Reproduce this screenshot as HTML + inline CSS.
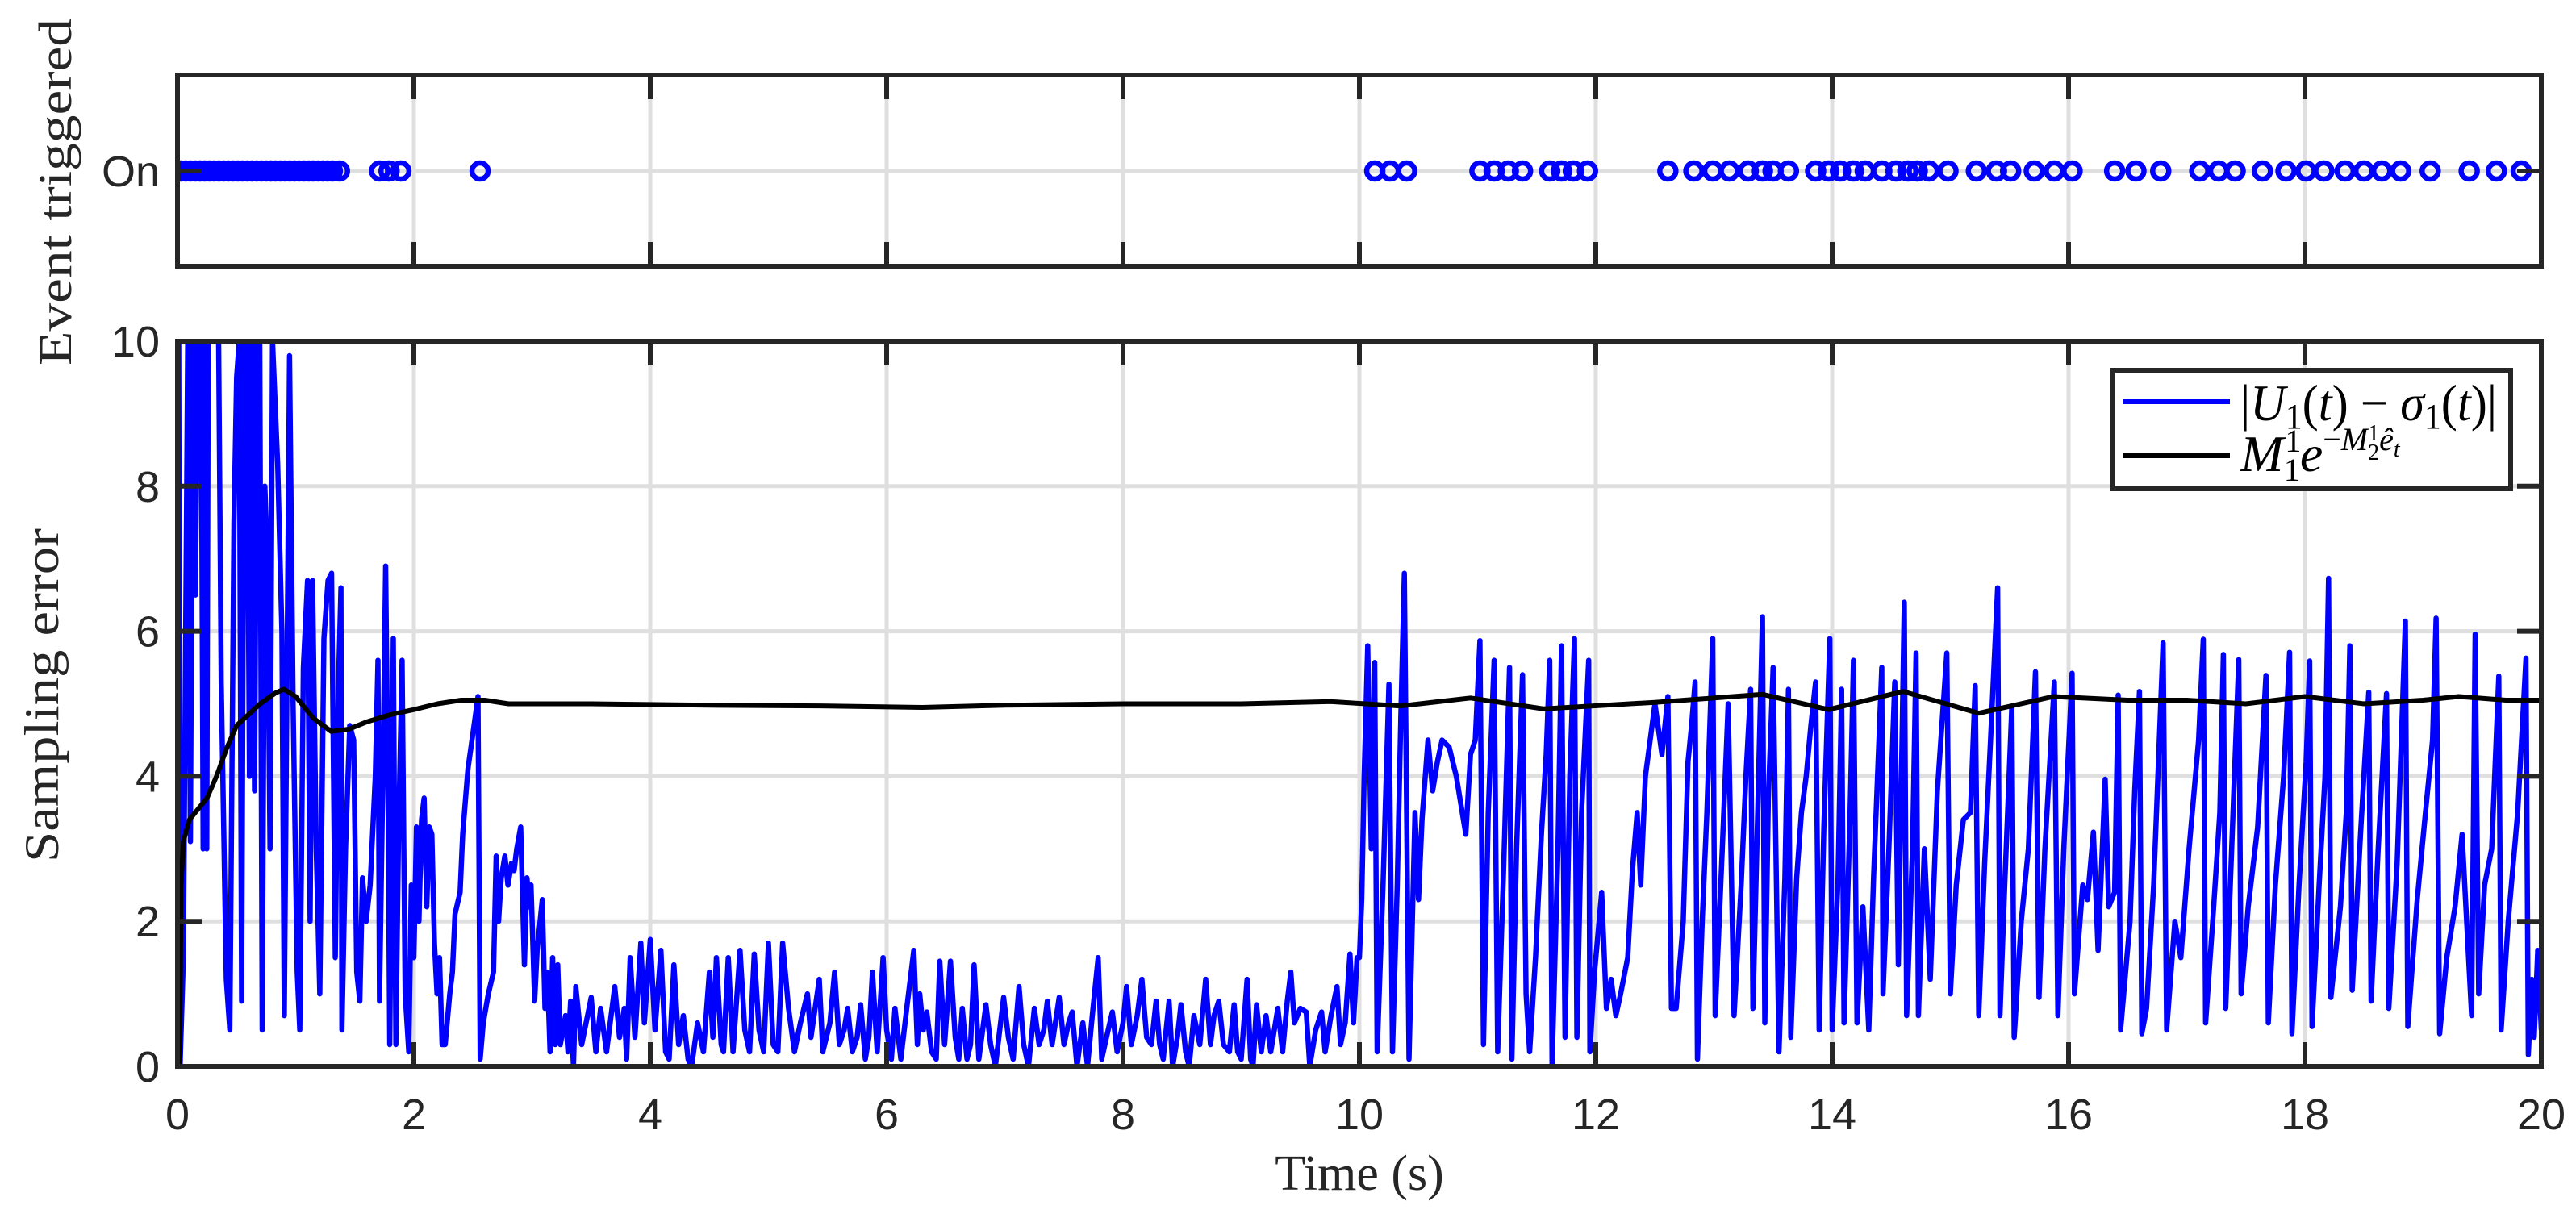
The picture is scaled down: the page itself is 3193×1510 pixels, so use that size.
<!DOCTYPE html>
<html><head><meta charset="utf-8"><style>
html,body{margin:0;padding:0;background:#fff}
svg{display:block}
.tk{font-family:"Liberation Sans",sans-serif;font-size:54px;fill:#262626}
</style></head><body>
<svg id="fig" width="3193" height="1510" viewBox="0 0 3193 1510" xmlns="http://www.w3.org/2000/svg">
<defs><clipPath id="clipB"><rect x="220" y="423" width="2930" height="899"/></clipPath>
<clipPath id="clipT"><rect x="220" y="93" width="2930" height="237"/></clipPath></defs>
<g id="topAx"></g>
<g id="botAx"></g>
<text transform="translate(88,238) rotate(-90)" text-anchor="middle" font-family="Liberation Serif, serif" font-size="58" fill="#262626" textLength="430" lengthAdjust="spacingAndGlyphs">Event triggered</text>
<text transform="translate(72,862) rotate(-90)" text-anchor="middle" font-family="Liberation Serif, serif" font-size="60" fill="#262626" textLength="414" lengthAdjust="spacingAndGlyphs">Sampling error</text>
<text x="1685" y="1475" text-anchor="middle" font-family="Liberation Serif, serif" font-size="62" fill="#262626">Time (s)</text>
<g>
<rect x="2619" y="459" width="493" height="147" fill="#fff" stroke="#262626" stroke-width="6"/>
<line x1="2632" y1="498" x2="2764" y2="498" stroke="#0000ff" stroke-width="6"/>
<line x1="2632" y1="565" x2="2764" y2="565" stroke="#000" stroke-width="6"/>
<text x="2777" y="521" font-family="Liberation Serif, serif" font-size="64" fill="#000" textLength="318" lengthAdjust="spacingAndGlyphs">|<tspan font-style="italic">U</tspan><tspan font-size="44" dy="10">1</tspan><tspan dy="-10">(</tspan><tspan font-style="italic">t</tspan>) − <tspan font-style="italic">σ</tspan><tspan font-size="44" dy="10">1</tspan><tspan dy="-10">(</tspan><tspan font-style="italic">t</tspan>)|</text>
<text x="2777" y="584" font-family="Liberation Serif, serif" font-size="64" fill="#000"><tspan font-style="italic">M</tspan><tspan font-size="40" dx="2" dy="-24">1</tspan><tspan font-size="40" dx="-20" dy="36">1</tspan><tspan font-style="italic" dy="-12">e</tspan><tspan font-size="40" dy="-26">−</tspan><tspan font-size="40" font-style="italic">M</tspan><tspan font-size="28" dy="-12">1</tspan><tspan font-size="28" dx="-14" dy="24">2</tspan><tspan font-size="40" font-style="italic" dy="-12">ê</tspan><tspan font-size="28" font-style="italic" dy="8">t</tspan></text>
</g>
</svg>
<script>
const xTicks=[0,2,4,6,8,10,12,14,16,18,20];
const yTicks=[0,2,4,6,8,10];
const eventT=[0.03,0.07,0.11,0.15,0.19,0.23,0.27,0.31,0.35,0.39,0.43,0.47,0.51,0.55,0.59,0.63,0.67,0.71,0.75,0.79,0.83,0.87,0.91,0.95,0.99,1.03,1.07,1.11,1.15,1.19,1.23,1.27,1.31,1.37,1.71,1.79,1.89,2.56,
10.13,10.26,10.40,11.02,11.14,11.26,11.38,11.61,11.71,11.81,11.93,12.61,12.83,12.99,13.13,13.29,13.41,13.50,13.63,13.86,13.97,14.07,14.18,14.28,14.42,14.54,14.64,14.72,14.82,14.98,
15.22,15.39,15.51,15.71,15.88,16.03,16.39,16.57,16.78,17.11,17.27,17.41,17.64,17.84,18.01,18.16,18.34,18.50,18.65,18.81,19.06,19.39,19.62,19.83];
const blueT=[0,0.01,0.022,0.05,0.087,0.109,0.13,0.152,0.17,0.2,0.217,0.235,0.248,0.26,0.3,0.348,0.37,0.413,0.443,0.478,0.5,0.522,0.543,0.565,0.587,0.609,0.63,0.652,0.674,0.696,0.717,0.739,0.761,0.783,0.804,0.848,0.883,0.904,0.948,0.978,1.013,1.035,1.065,1.1,1.122,1.143,1.174,1.204,1.239,1.274,1.304,1.335,1.361,1.383,1.391,1.422,1.457,1.491,1.517,1.543,1.565,1.596,1.63,1.674,1.696,1.709,1.739,1.761,1.783,1.796,1.826,1.848,1.87,1.9,1.926,1.957,1.978,2.0,2.022,2.043,2.065,2.087,2.109,2.13,2.152,2.174,2.196,2.217,2.239,2.265,2.304,2.326,2.348,2.391,2.413,2.457,2.5,2.543,2.561,2.587,2.63,2.674,2.696,2.717,2.739,2.77,2.796,2.826,2.848,2.87,2.904,2.935,2.957,2.978,2.991,3.022,3.043,3.087,3.109,3.13,3.152,3.174,3.196,3.217,3.239,3.283,3.304,3.326,
3.35,3.37,3.42,3.5,3.54,3.58,3.63,3.7,3.74,3.78,3.8,3.83,3.87,3.92,3.95,4.0,4.04,4.09,4.13,4.16,4.2,4.24,4.28,4.32,4.35,4.4,4.45,4.5,4.53,4.56,4.6,4.62,4.66,4.7,4.76,4.8,4.84,4.88,4.92,4.96,5.0,5.04,5.08,5.12,5.17,5.22,5.27,5.33,5.36,5.43,5.46,5.52,5.56,5.6,5.64,5.67,5.71,5.75,5.78,5.82,5.85,5.88,5.92,5.97,6.0,6.04,6.07,6.12,6.17,6.23,6.26,6.28,6.31,6.34,6.38,6.42,6.45,6.49,6.54,6.58,6.61,6.64,6.68,6.71,6.74,6.78,6.84,6.88,6.92,6.99,7.03,7.07,7.12,7.16,7.2,7.25,7.29,7.33,7.36,7.4,7.46,7.5,7.54,7.57,7.61,7.66,7.7,7.74,7.79,7.82,7.86,7.91,7.95,8.0,8.03,8.07,8.12,8.16,8.2,8.24,8.28,8.31,8.34,8.39,8.42,8.46,8.49,8.53,8.56,8.6,8.65,8.7,8.74,8.77,8.81,8.85,8.9,8.94,8.97,9.0,9.05,9.08,9.1,9.13,9.17,9.21,9.25,9.31,9.35,9.39,9.42,9.45,9.5,9.55,9.58,9.63,9.68,9.71,9.76,9.81,9.84,9.88,9.92,9.95,9.98,
10.0,10.02,10.04,10.07,10.10,10.13,10.15,10.2,10.25,10.28,10.32,10.35,10.38,10.42,10.47,10.50,10.53,10.58,10.62,10.66,10.70,10.76,10.82,10.90,10.94,10.98,11.02,11.05,11.09,11.14,11.17,11.22,11.27,11.29,11.33,11.38,11.41,11.44,11.49,11.54,11.58,11.61,11.63,11.68,11.71,11.74,11.78,11.82,11.84,11.88,11.94,11.95,11.99,12.05,12.09,12.13,12.17,12.21,12.27,12.31,12.35,12.38,12.42,12.46,12.50,12.56,12.61,12.64,12.68,12.74,12.78,12.81,12.84,12.86,12.90,12.94,12.99,13.01,13.07,13.12,13.17,13.23,13.27,13.31,13.33,13.37,13.41,13.43,13.46,13.50,13.55,13.60,13.63,13.65,13.70,13.74,13.78,13.82,13.86,13.89,13.93,13.98,14.00,14.05,14.08,14.10,14.15,14.18,14.21,14.26,14.31,14.35,14.42,14.43,14.48,14.53,14.56,14.61,14.63,14.68,14.71,14.73,14.78,14.83,14.89,
14.97,15.00,15.05,15.11,15.17,15.21,15.24,15.29,15.34,15.40,15.42,15.46,15.52,15.54,15.60,15.66,15.72,15.75,15.80,15.88,15.91,15.96,16.03,16.05,16.12,16.16,16.21,16.25,16.31,16.34,16.39,16.42,16.44,16.52,16.56,16.60,16.62,16.66,16.72,16.80,16.83,16.9,16.95,17.02,17.1,17.14,17.16,17.22,17.28,17.31,17.33,17.38,17.44,17.46,17.52,17.6,17.67,17.69,17.75,17.82,17.87,17.89,17.95,18.01,18.04,18.06,18.12,18.17,18.20,18.22,18.3,18.35,18.38,18.40,18.47,18.54,18.56,18.62,18.69,18.71,18.78,18.85,18.87,18.95,19.02,19.08,19.11,19.14,19.2,19.27,19.33,19.41,19.44,19.47,19.52,19.58,19.64,19.66,19.72,19.8,19.87,19.89,19.92,19.94,19.97,20.0];
const blueY=[0,10,0,1.5,10,3.1,10,6.5,10,10,3.0,10,3.0,10,10,10,5.3,1.2,0.5,7.5,9.5,10,0.9,10,10,4,10,3.8,10,10,0.5,8,7,3,10,8.3,6,0.7,9.8,5,1.3,0.5,5.5,6.7,2,6.7,3,1,5.9,6.7,6.8,1.5,5.2,6.6,0.5,3,4.7,4.5,1.3,0.9,2.6,2.0,2.5,4,5.6,0.9,4.2,6.9,3.5,0.3,5.9,0.3,3.2,5.6,1,0.2,2.5,1.5,3.3,2,3.4,3.7,2.2,3.3,3.2,1.7,1.0,1.5,0.3,0.3,1.0,1.3,2.1,2.4,3.2,4.1,4.6,5.1,0.1,0.6,1.0,1.3,2.9,2.0,2.6,2.9,2.5,2.8,2.7,3.0,3.3,1.4,2.6,2.2,2.5,0.9,1.6,2.3,0.8,1.3,0.2,1.5,0.3,1.4,0.3,0.7,0.2,0.9,
0.0,1.1,0.3,0.95,0.2,0.8,0.2,1.1,0.4,0.8,0.1,1.5,0.4,1.7,0.6,1.75,0.5,1.6,0.2,0.1,1.4,0.3,0.7,0.1,0.0,0.6,0.2,1.3,0.4,1.5,0.3,0.2,1.5,0.2,1.6,0.5,0.2,1.55,0.5,0.2,1.7,0.3,0.2,1.7,0.8,0.2,0.6,1.0,0.4,1.2,0.2,0.6,1.3,0.3,0.5,0.8,0.2,0.4,0.85,0.1,0.4,1.3,0.2,1.5,0.5,0.1,0.8,0.1,0.8,1.6,0.3,1.0,0.5,0.75,0.2,0.1,1.45,0.3,1.45,0.4,0.1,0.8,0.1,0.3,1.4,0.1,0.85,0.3,0.0,0.95,0.4,0.1,1.1,0.3,0.0,0.8,0.3,0.5,0.9,0.3,0.95,0.3,0.6,0.75,0.0,0.6,0.0,0.7,1.5,0.1,0.4,0.75,0.2,0.6,1.1,0.3,0.7,1.2,0.4,0.3,0.9,0.3,0.1,0.9,0.0,0.4,0.85,0.2,0.0,0.7,0.3,1.2,0.3,0.7,0.9,0.3,0.2,0.85,0.2,0.1,1.2,0.1,0.0,0.85,0.2,0.7,0.2,0.8,0.2,0.9,1.3,0.6,0.8,0.75,0.0,0.5,0.75,0.2,0.7,1.1,0.3,0.6,1.55,0.6,1.5,
1.5,2.3,4.0,5.8,3.0,5.57,0.2,2.5,5.27,0.2,2.5,4.8,6.8,0.1,3.5,2.3,3.4,4.5,3.8,4.2,4.5,4.4,4.0,3.2,4.3,4.5,5.87,0.3,3.5,5.6,0.2,2.7,5.5,0.1,3.0,5.4,1.0,0.2,1.5,3.2,4.3,5.6,0.0,3.0,5.8,0.4,4.0,5.9,0.4,3.5,5.6,0.2,1.3,2.4,0.8,1.2,0.7,1.0,1.5,2.7,3.5,2.5,4.0,4.5,5.0,4.3,5.1,0.8,0.8,2.0,4.2,4.7,5.3,0.1,2.0,3.5,5.9,0.7,3.0,5.0,0.7,2.5,4.0,5.2,0.8,3.5,6.2,0.6,3.7,5.5,0.2,2.6,5.2,0.4,2.6,3.5,4.0,4.7,5.3,0.5,3.3,5.9,0.5,2.6,5.2,0.6,3.4,5.6,0.6,2.2,0.5,2.6,5.5,1.0,3.0,5.3,1.4,6.4,0.7,3.0,5.7,0.7,3.0,1.2,3.8,
5.7,1.0,2.5,3.4,3.5,5.25,0.7,2.8,4.5,6.6,0.7,2.5,4.96,0.4,2.0,3.0,5.44,0.95,3.0,5.3,0.7,3.0,5.42,1.0,2.5,2.3,3.23,1.6,3.96,2.2,2.4,5.12,0.5,2.0,3.8,5.17,0.45,0.8,2.5,5.84,0.5,2.0,1.5,3.0,4.5,5.89,0.6,2.0,3.5,5.68,0.8,3.0,5.61,1.0,2.2,3.3,5.39,0.6,2.5,4.0,5.71,0.45,2.5,4.2,5.59,0.55,2.5,4.0,6.73,0.95,2.2,3.5,5.8,1.05,3.2,5.16,0.9,3.0,5.14,0.8,2.8,6.14,0.55,2.3,3.5,4.5,6.18,0.45,1.5,2.2,3.2,0.7,5.96,1.0,2.5,3.0,5.38,0.5,2.0,3.5,5.63,0.16,1.2,0.4,1.6,0.5];
const blackT=[0,0.02,0.03,0.05,0.1,0.2,0.25,0.33,0.42,0.5,0.6,0.7,0.83,0.9,1.0,1.15,1.3,1.45,1.6,1.8,2.0,2.2,2.4,2.6,2.8,3.5,4.5,5.5,6.3,7.0,8.0,9.0,9.76,10.35,10.94,11.56,12.5,13.41,13.97,14.6,15.24,15.87,16.5,17.0,17.5,18.0,18.5,19.0,19.3,19.7,20.0];
const blackY=[0,0,2.5,3.1,3.4,3.6,3.7,4.0,4.4,4.7,4.85,5.0,5.15,5.2,5.1,4.8,4.62,4.65,4.75,4.85,4.92,5.0,5.05,5.05,5.0,5.0,4.98,4.97,4.95,4.98,5.0,5.0,5.03,4.97,5.08,4.93,5.02,5.13,4.92,5.17,4.87,5.1,5.05,5.05,5.0,5.1,5.0,5.05,5.1,5.05,5.05];

const NS='http://www.w3.org/2000/svg';
const X0=220,X1=3150,BY0=1322,BY1=423,TY0=330,TY1=93,ONY=212;
const xs=t=>X0+(t-xTicks[0])/(xTicks[xTicks.length-1]-xTicks[0])*(X1-X0);
const ys=v=>BY0-(v-yTicks[0])/(yTicks[yTicks.length-1]-yTicks[0])*(BY0-BY1);
function mk(tag,attrs,parent){const e=document.createElementNS(NS,tag);for(const k in attrs)e.setAttribute(k,attrs[k]);parent.appendChild(e);return e;}
const topG=document.getElementById('topAx'),botG=document.getElementById('botAx');
mk('rect',{x:X0,y:TY1,width:X1-X0,height:TY0-TY1,fill:'#fff'},topG);
xTicks.forEach(t=>{const g=mk('line',{x1:xs(t),y1:TY1,x2:xs(t),y2:TY0,stroke:'#dfdfdf','stroke-width':5},topG);

});
mk('line',{x1:X0,y1:ONY,x2:X1,y2:ONY,stroke:'#dfdfdf','stroke-width':5},topG);
const evG=mk('g',{'clip-path':'url(#clipT)'},topG);
eventT.forEach(t=>{const c=mk('circle',{cx:xs(t),cy:ONY,r:10,fill:'none',stroke:'#0000ff','stroke-width':6.5},evG);

});
xTicks.forEach(t=>{mk('line',{x1:xs(t),y1:TY0,x2:xs(t),y2:TY0-30,stroke:'#262626','stroke-width':6},topG);mk('line',{x1:xs(t),y1:TY1,x2:xs(t),y2:TY1+30,stroke:'#262626','stroke-width':6},topG);});
mk('line',{x1:X0,y1:ONY,x2:X0+30,y2:ONY,stroke:'#262626','stroke-width':6},topG);
mk('line',{x1:X1,y1:ONY,x2:X1-30,y2:ONY,stroke:'#262626','stroke-width':6},topG);
mk('rect',{x:X0,y:TY1,width:X1-X0,height:TY0-TY1,fill:'none',stroke:'#262626','stroke-width':6},topG);
const onL=mk('text',{x:198,y:ONY+19,'text-anchor':'end',class:'tk'},topG);onL.textContent='On';


xTicks.forEach(t=>{const g=mk('line',{x1:xs(t),y1:BY1,x2:xs(t),y2:BY0,stroke:'#dfdfdf','stroke-width':5},botG);

});
yTicks.forEach(v=>{const g=mk('line',{x1:X0,y1:ys(v),x2:X1,y2:ys(v),stroke:'#dfdfdf','stroke-width':5},botG);

});
const clipG=mk('g',{'clip-path':'url(#clipB)'},botG);
let d='';blueT.forEach((t,i)=>{d+=(i?'L':'M')+xs(t).toFixed(1)+' '+ys(blueY[i]).toFixed(1);});
const bl=mk('path',{d:d,fill:'none',stroke:'#0000ff','stroke-width':6.5,'stroke-linejoin':'round'},clipG);


let d2='';blackT.forEach((t,i)=>{d2+=(i?'L':'M')+xs(t).toFixed(1)+' '+ys(blackY[i]).toFixed(1);});
const bk=mk('path',{d:d2,fill:'none',stroke:'#000','stroke-width':6,'stroke-linejoin':'round'},clipG);


xTicks.forEach(t=>{mk('line',{x1:xs(t),y1:BY0,x2:xs(t),y2:BY0-30,stroke:'#262626','stroke-width':6},botG);mk('line',{x1:xs(t),y1:BY1,x2:xs(t),y2:BY1+30,stroke:'#262626','stroke-width':6},botG);
const l=mk('text',{x:xs(t),y:1400,'text-anchor':'middle',class:'tk'},botG);l.textContent=t;

});
yTicks.forEach(v=>{mk('line',{x1:X0,y1:ys(v),x2:X0+30,y2:ys(v),stroke:'#262626','stroke-width':6},botG);mk('line',{x1:X1,y1:ys(v),x2:X1-30,y2:ys(v),stroke:'#262626','stroke-width':6},botG);
const l=mk('text',{x:198,y:ys(v)+19,'text-anchor':'end',class:'tk'},botG);l.textContent=v;

});
mk('rect',{x:X0,y:BY1,width:X1-X0,height:BY0-BY1,fill:'none',stroke:'#262626','stroke-width':6},botG);
</script>
</body></html>
